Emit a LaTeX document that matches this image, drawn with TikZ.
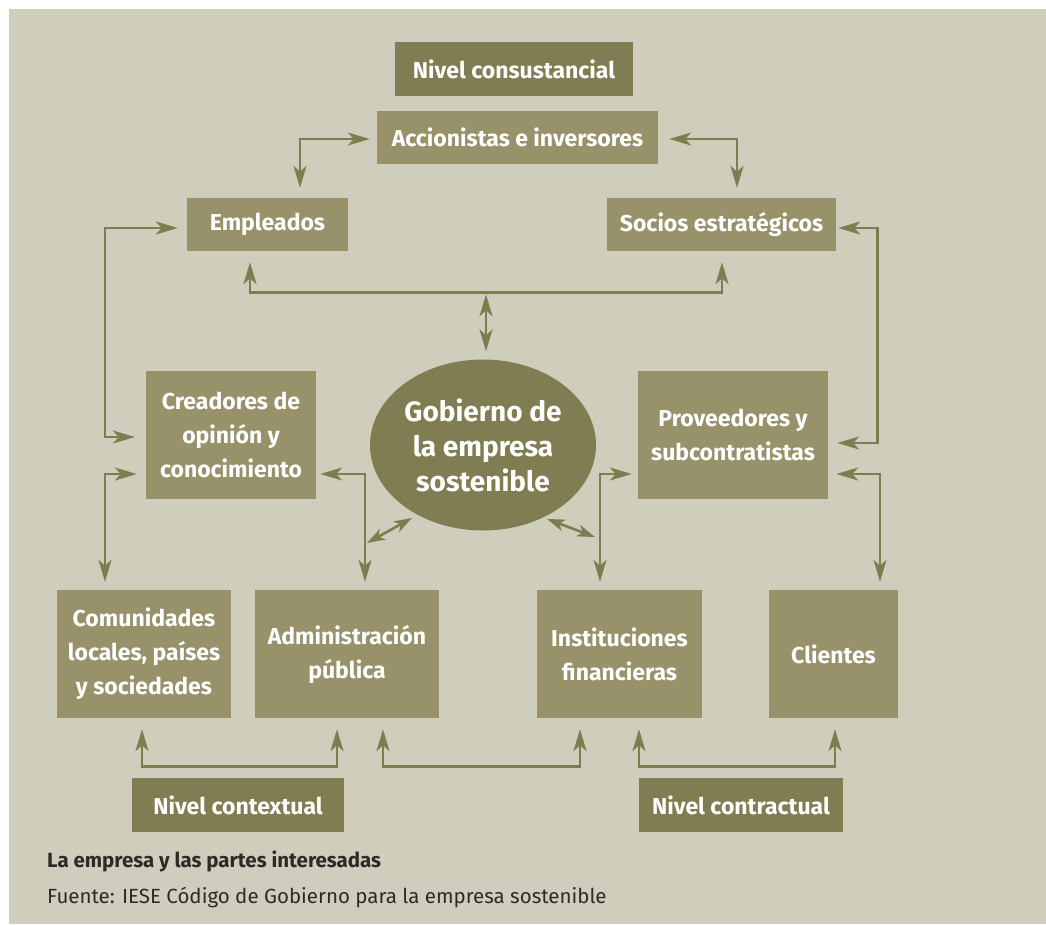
\documentclass[tikz,border=0pt]{standalone}
\usepackage{fontspec}
\setmainfont{Fira Sans}
\usetikzlibrary{shapes.geometric, arrows.meta, positioning, calc}
\definecolor{PaperGray}{HTML}{CFCEBC}
\definecolor{OliveLight}{HTML}{97926A}
\definecolor{OliveDark}{HTML}{807D52}
\definecolor{OliveLine}{HTML}{7F7D4F}
\definecolor{InkDark}{HTML}{2E2B26}
\tikzset{
    party/.style={rectangle, fill=OliveLight, text=white, inner sep=0pt,
        align=center, font=\fontsize{23}{34}\selectfont\bfseries},
    level/.style={party, fill=OliveDark},
    link/.style={draw=OliveLine, line width=2.6pt, {Stealth[length=22pt,width=13pt,inset=6pt]}-{Stealth[length=22pt,width=13pt,inset=6pt]}},
    shortlink/.style={draw=OliveLine, line width=2.6pt, {Stealth[length=18pt,width=12pt,inset=5pt]}-{Stealth[length=18pt,width=12pt,inset=5pt]}}
}
\begin{document}
\begin{tikzpicture}[x=1pt, y=-1pt]
    % Canvas
    \useasboundingbox (0,0) rectangle (1046,924);
    \fill[PaperGray] (9,9) rectangle (1046,924);

    % Levels
    \node[level, minimum width=238pt, minimum height=54pt] (ncons) at (514,69) {Nivel consustancial};
    \node[level, minimum width=212pt, minimum height=54pt] (nctx) at (238,805) {Nivel contextual};
    \node[level, minimum width=204pt, minimum height=54pt] (ncnt) at (741,805) {Nivel contractual};

    % Stakeholders
    \node[party, minimum width=281pt, minimum height=53pt] (acc) at (517.5,137.5) {Accionistas e inversores};
    \node[party, minimum width=161pt, minimum height=53pt] (emp) at (267.5,224.5) {Empleados};
    \node[party, minimum width=229pt, minimum height=53pt] (soc) at (721.5,224.5) {Socios estratégicos};
    \node[party, minimum width=170pt, minimum height=128pt] (cre) at (231,435) {Creadores de\\opinión y\\conocimiento};
    \node[party, minimum width=190pt, minimum height=128pt] (prov) at (733,435) {Proveedores y\\subcontratistas};
    \node[party, minimum width=174pt, minimum height=128pt] (com) at (144,654) {Comunidades\\locales, países\\y sociedades};
    \node[party, minimum width=184pt, minimum height=128pt] (adm) at (347,654) {Administración\\pública};
    \node[party, minimum width=165pt, minimum height=128pt] (inst) at (619.5,654) {Instituciones\\financieras};
    \node[party, minimum width=129pt, minimum height=128pt] (cli) at (833.5,654) {Clientes};

    % Centre
    \node[ellipse, fill=OliveDark, text=white, inner sep=0pt, minimum width=226pt, minimum height=171pt,
          align=center, font=\fontsize{28}{35}\selectfont\bfseries] (gob) at (483,445) {Gobierno de\\la empresa\\sostenible};

    % Upper links
    \draw[link] ($(acc.west)+(-7,1.5)$) -| ($(emp.north)+(32.5,-10)$);
    \draw[link] ($(acc.east)+(11,1.5)$) -| ($(soc.north)+(15.5,-10)$);
    \draw[link] ($(emp.south)+(-17.5,11)$) -- ++(0,30) -| ($(soc.south)+(0.5,11)$);
    \draw[link] ($(gob.north)+(3,-65)$) -- ($(gob.north)+(3,-8)$);

    % Side loops
    \draw[link] ($(emp.west)+(-9,3.5)$) -- ++(-73,0) |- ($(cre.west)+(-11,2)$);
    \draw[link] ($(soc.east)+(2,3.5)$) -- ++(39,0) |- ($(prov.east)+(9,8)$);

    % Middle links
    \draw[link] ($(cre.west)+(-9,39)$) -| ($(com.north)+(-39,-8)$);
    \draw[link] ($(cre.east)+(4,39)$) -| ($(adm.north)+(18,-8)$);
    \draw[link] ($(prov.west)+(-6,39)$) -| ($(inst.north)+(-19.5,-8)$);
    \draw[link] ($(prov.east)+(8,39)$) -| ($(cli.north)+(46.5,-8)$);
    \draw[shortlink] ($(gob.center)+(-71,73)$) -- ($(gob.center)+(-116,98)$);
    \draw[shortlink] ($(gob.center)+(64,74)$) -- ($(gob.center)+(112,92)$);

    % Lower links
    \draw[link] ($(com.south)+(-2,11)$) -- ++(0,37) -| ($(adm.south)+(-10,11)$);
    \draw[link] ($(adm.south)+(36,11)$) -- ++(0,37) -| ($(inst.south)+(-39.5,11)$);
    \draw[link] ($(inst.south)+(19.5,11)$) -- ++(0,37) -| ($(cli.south)+(1.5,11)$);

    % Caption
    \node[anchor=base west, text=InkDark, inner sep=0pt, font=\fontsize{20.5}{24}\selectfont\bfseries] (title) at (47,867) {La empresa y las partes interesadas};
    \node[anchor=base west, text=InkDark, inner sep=0pt, font=\fontsize{20.5}{24}\selectfont] (source) at (47,903) {Fuente: IESE Código de Gobierno para la empresa sostenible};
\end{tikzpicture}
\end{document}
